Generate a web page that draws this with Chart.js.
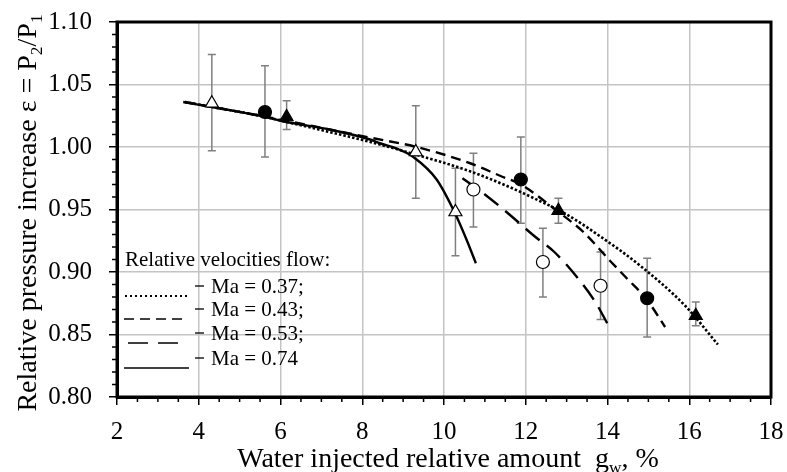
<!DOCTYPE html>
<html>
<head>
<meta charset="utf-8">
<script src="https://cdn.jsdelivr.net/npm/chart.js@4.4.1/dist/chart.umd.min.js"></script>
<style>
html, body { margin: 0; padding: 0; background: #fff; }
#wrap { width: 787px; height: 472px; }
</style>
</head>
<body>
<div id="wrap"><canvas id="chart"></canvas></div>
<script>
// подписи и оси
const machLabels = ['Ma = 0.37;', 'Ma = 0.43;', 'Ma = 0.53;', 'Ma = 0.74'];
const xTickValues = [2, 4, 6, 8, 10, 12, 14, 16, 18];
const yTickValues = [0.80, 0.85, 0.90, 0.95, 1.00, 1.05, 1.10];

// аппроксимирующие кривые
const fitX037 = [3.66, 4.5, 5.5, 6.15, 7.2, 8.2, 9.3, 10.6, 11.6, 12.2, 13.0, 13.8, 14.8, 15.9, 16.7];
const fitY037 = [1.036, 1.031, 1.025, 1.020, 1.012, 1.004, 0.994, 0.981, 0.968, 0.959, 0.946, 0.929, 0.905, 0.873, 0.842];
const fitX043 = [3.66, 4.5, 5.5, 6.15, 7.2, 8.27, 9.33, 10.64, 11.37, 11.88, 12.8, 13.41, 14.06, 14.47, 14.96, 15.41];
const fitY043 = [1.036, 1.031, 1.025, 1.021, 1.014, 1.007, 1.000, 0.987, 0.977, 0.970, 0.948, 0.932, 0.909, 0.895, 0.878, 0.856];
const fitX053 = [10.45, 11.0, 11.6, 12.2, 12.7, 13.3, 13.7, 14.06];
const fitY053 = [0.975, 0.962, 0.946, 0.929, 0.916, 0.894, 0.876, 0.855];
const fitX074 = [3.62, 4.5, 5.5, 6.15, 7.2, 8.19, 8.43, 8.9, 9.25, 9.82, 10.27, 10.55, 10.78];
const fitY074 = [1.036, 1.031, 1.025, 1.020, 1.014, 1.006, 1.003, 0.998, 0.992, 0.974, 0.947, 0.926, 0.907];

// экспериментальные точки с погрешностями
const ptX037 = [6.15, 12.80, 16.16];
const ptY037 = [1.024, 0.949, 0.865];
const loY037 = [1.014, 0.939, 0.857];
const hiY037 = [1.037, 0.959, 0.876];
const ptX043 = [5.62, 11.88, 14.97];
const ptY043 = [1.028, 0.974, 0.879];
const loY043 = [0.992, 0.939, 0.848];
const hiY043 = [1.065, 1.008, 0.911];
const ptX053 = [10.72, 12.42, 13.83];
const ptY053 = [0.966, 0.908, 0.889];
const loY053 = [0.936, 0.880, 0.862];
const hiY053 = [0.995, 0.935, 0.916];
const ptX074 = [4.32, 9.31, 10.28];
const ptY074 = [1.035, 0.996, 0.948];
const loY074 = [0.997, 0.959, 0.913];
const hiY074 = [1.074, 1.033, 0.983];

const FONT = 'Liberation Serif';

function zip(xs, ys) {
    return xs.map(function(x, i) { return { x: x, y: ys[i] }; });
}

function fitSet(xs, ys, dash, width) {
    return {
        data: zip(xs, ys),
        showLine: true,
        pointRadius: 0,
        borderColor: '#000',
        borderWidth: width,
        borderDash: dash,
        cubicInterpolationMode: 'monotone',
        order: 2
    };
}

function pointSet(xs, ys, lo, hi, style, fill, r) {
    return {
        data: zip(xs, ys),
        errLo: lo,
        errHi: hi,
        showLine: false,
        pointStyle: style,
        pointRadius: r,
        pointBackgroundColor: fill,
        pointBorderColor: '#000',
        pointBorderWidth: 1.2,
        order: 1
    };
}

const datasets = [
    pointSet(ptX037, ptY037, loY037, hiY037, 'triangle', '#000', 7.5),
    pointSet(ptX043, ptY043, loY043, hiY043, 'circle', '#000', 6.5),
    pointSet(ptX053, ptY053, loY053, hiY053, 'circle', '#fff', 6.5),
    pointSet(ptX074, ptY074, loY074, hiY074, 'triangle', '#fff', 7.5),
    fitSet(fitX037, fitY037, [2.5, 2], 2.6),
    fitSet(fitX043, fitY043, [10, 6], 2.4),
    fitSet(fitX053, fitY053, [18, 9], 2.4),
    fitSet(fitX074, fitY074, [], 2.4)
];

// текст с нижними индексами
function drawRich(ctx, parts, x, y, size) {
    let cx = x;
    parts.forEach(function(p) {
        const s = p.sub ? size * 0.62 : size;
        ctx.font = s + 'px "' + FONT + '"';
        ctx.fillText(p.t, cx, y + (p.sub ? size * 0.2 : 0));
        cx += ctx.measureText(p.t).width;
    });
    return cx - x;
}
function richWidth(ctx, parts, size) {
    let w = 0;
    parts.forEach(function(p) {
        ctx.font = (p.sub ? size * 0.62 : size) + 'px "' + FONT + '"';
        w += ctx.measureText(p.t).width;
    });
    return w;
}

const decorPlugin = {
    id: 'decor',
    beforeDatasetsDraw: function(chart) {
        const ctx = chart.ctx, xs = chart.scales.x, ys = chart.scales.y;
        ctx.save();
        ctx.strokeStyle = '#808080';
        ctx.lineWidth = 1.5;
        chart.data.datasets.forEach(function(ds) {
            if (!ds.errLo) return;
            ds.data.forEach(function(p, i) {
                const px = xs.getPixelForValue(p.x);
                const a = ys.getPixelForValue(ds.errLo[i]);
                const b = ys.getPixelForValue(ds.errHi[i]);
                ctx.beginPath();
                ctx.moveTo(px, a); ctx.lineTo(px, b);
                ctx.moveTo(px - 4, a); ctx.lineTo(px + 4, a);
                ctx.moveTo(px - 4, b); ctx.lineTo(px + 4, b);
                ctx.stroke();
            });
        });
        ctx.restore();
    },
    afterDraw: function(chart) {
        const ctx = chart.ctx, area = chart.chartArea;
        const xs = chart.scales.x, ys = chart.scales.y;
        ctx.save();
        // рамка
        ctx.strokeStyle = '#000';
        ctx.lineWidth = 3;
        ctx.strokeRect(area.left, area.top, area.right - area.left, area.bottom - area.top);
        // малые деления
        ctx.lineWidth = 1.5;
        ctx.beginPath();
        for (let v = 2.5; v < 18; v += 0.5) {
            if (Math.abs(v % 2) < 1e-6) continue;
            const px = xs.getPixelForValue(v);
            ctx.moveTo(px, area.bottom); ctx.lineTo(px, area.bottom + 5);
        }
        for (let k = 81; k < 110; k++) {
            if (k % 5 === 0) continue;
            const py = ys.getPixelForValue(k / 100);
            ctx.moveTo(area.left - 5, py); ctx.lineTo(area.left, py);
        }
        ctx.stroke();

        // подписи осей
        ctx.fillStyle = '#000';
        ctx.textBaseline = 'alphabetic';
        ctx.textAlign = 'left';
        const xt = [{ t: 'Water injected relative amount  g' }, { t: 'w', sub: true }, { t: ', %' }];
        const xw = richWidth(ctx, xt, 28);
        drawRich(ctx, xt, 448 - xw / 2, 467, 28);

        const yt = [{ t: 'Relative pressure increase \u03b5 = P' }, { t: '2', sub: true }, { t: '/P' }, { t: '1', sub: true }];
        const yw = richWidth(ctx, yt, 28);
        ctx.save();
        ctx.translate(36, 213 + yw / 2);
        ctx.rotate(-Math.PI / 2);
        drawRich(ctx, yt, 0, 0, 28);
        ctx.restore();

        // легенда
        ctx.font = '21px "' + FONT + '"';
        ctx.fillText('Relative velocities flow:', 125, 266);
        const rows = [293, 316, 340, 365];
        const dashes = [[2, 3], [10, 6], [20, 10], []];
        const widths = [2, 1.6, 1.6, 1.6];
        const spans = [[125, 187], [124, 184], [128, 178], [124, 189]];
        machLabels.forEach(function(lbl, i) {
            ctx.fillText(lbl, 211, rows[i]);
            ctx.lineWidth = 1.3;
            ctx.setLineDash([]);
            ctx.beginPath();
            ctx.moveTo(195, rows[i] - 7); ctx.lineTo(204, rows[i] - 7);
            ctx.stroke();
            ctx.lineWidth = widths[i];
            ctx.setLineDash(dashes[i]);
            ctx.beginPath();
            ctx.moveTo(spans[i][0], rows[i] + 3); ctx.lineTo(spans[i][1], rows[i] + 3);
            ctx.stroke();
        });
        ctx.restore();
    }
};

const tickFont = { family: FONT, size: 25 };

new Chart(document.getElementById('chart').getContext('2d'), {
    type: 'scatter',
    data: { datasets: datasets },
    options: {
        responsive: true,
        maintainAspectRatio: false,
        animation: false,
        layout: { padding: { top: 22, right: 16, left: 0, bottom: 0 } },
        plugins: {
            legend: { display: false },
            tooltip: { enabled: false }
        },
        scales: {
            x: {
                type: 'linear',
                min: 2,
                max: 18,
                afterBuildTicks: function(s) { s.ticks = xTickValues.map(function(v) { return { value: v }; }); },
                afterFit: function(s) { s.height = 75; s.paddingLeft = 0; s.paddingRight = 0; },
                grid: { color: '#c4c4c4', lineWidth: 1.5, tickLength: 8, tickColor: '#000', tickWidth: 1.5 },
                border: { display: true, color: '#000', width: 3 },
                ticks: { color: '#000', font: tickFont, padding: 12, maxRotation: 0, autoSkip: false }
            },
            y: {
                type: 'linear',
                min: 0.8,
                max: 1.1,
                afterBuildTicks: function(s) { s.ticks = yTickValues.map(function(v) { return { value: v }; }); },
                afterFit: function(s) { s.width = 117; s.paddingTop = 0; s.paddingBottom = 0; },
                grid: { color: '#c4c4c4', lineWidth: 1.5, tickLength: 8, tickColor: '#000', tickWidth: 1.5 },
                border: { display: true, color: '#000', width: 3 },
                ticks: {
                    color: '#000', font: tickFont, padding: 17, autoSkip: false,
                    callback: function(v) { return v.toFixed(2); }
                }
            }
        }
    },
    plugins: [decorPlugin]
});
</script>
</body>
</html>
